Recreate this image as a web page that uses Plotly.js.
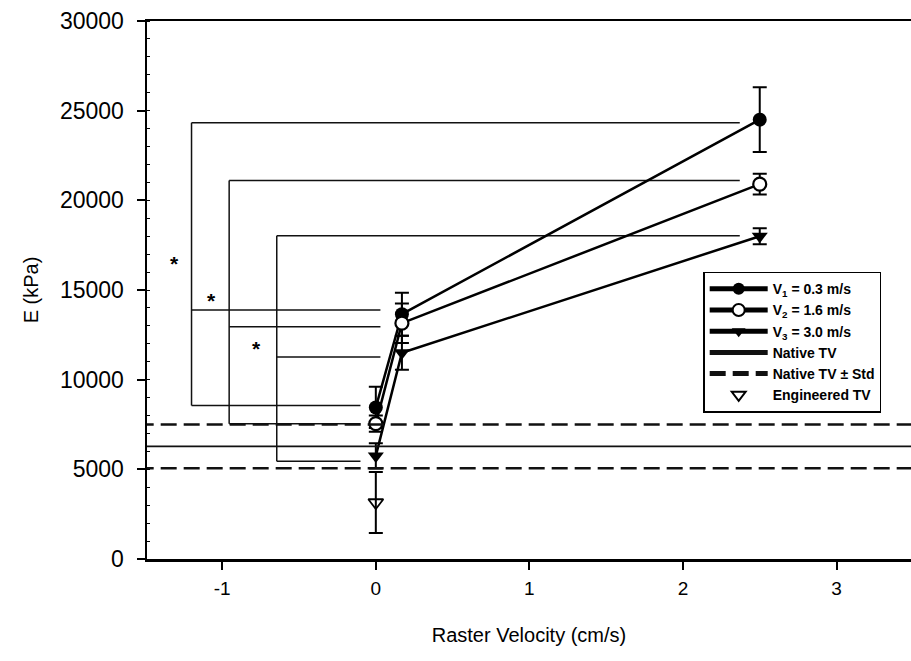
<!DOCTYPE html>
<html>
<head>
<meta charset="utf-8">
<script src="https://cdn.plot.ly/plotly-3.0.1.min.js"></script>
<style>html,body{margin:0;padding:0;background:#fff;}#chart{width:911px;height:661px;}</style>
</head>
<body>
<div id="chart"></div>
<script>
// ---- data ----
const xV = [0, 0.17, 2.5];
const v1 = [8450, 13650, 24500];
const v1Err = [1150, 1200, 1800];
const v2 = [7550, 13150, 20900];
const v2Err = [450, 1100, 580];
const v3 = [5750, 11500, 18000];
const v3Err = [700, 950, 450];
const engX = [0];
const engY = [3150];
const engErr = [1700];
const nativeTV = 6280;
const nativeStd = 1220;
const seriesNames = ["V<sub>1</sub> = 0.3 m/s", "V<sub>2</sub> = 1.6 m/s", "V<sub>3</sub> = 3.0 m/s",
                     "Native TV", "Native TV \u00b1 Std", "Engineered TV"];
// significance brackets
const bracketX = [-1.2, -0.955, -0.645];
const bracketLow = [8560, 7540, 5450];
const bracketMid = [13880, 12950, 11270];
const bracketHigh = [24330, 21100, 18020];
const bracketEnds = [-0.1, 0.03, 2.37];
const starX = [-1.31, -1.07, -0.777];
const starY = [16490, 14400, 11730];

const FONT = "Arial, 'Liberation Sans', Helvetica, sans-serif";
const traces = [];

// bracket lines
for (let i = 0; i < bracketX.length; i++) {
  const bx = bracketX[i];
  const levels = [bracketLow[i], bracketMid[i], bracketHigh[i]];
  const xs = [bx, bx], ys = [bracketLow[i], bracketHigh[i]];
  levels.forEach((lv, k) => { xs.push(null, bx, bracketEnds[k]); ys.push(null, lv, lv); });
  traces.push({x: xs, y: ys, mode: 'lines', line: {color: '#111', width: 1.5},
               showlegend: false, hoverinfo: 'skip'});
}

const errStyle = arr => ({type: 'data', array: arr, visible: true, color: '#000', thickness: 2, width: 7});

traces.push({name: seriesNames[0], x: xV, y: v1, mode: 'lines+markers',
  line: {color: '#000', width: 2.5}, marker: {symbol: 'circle', size: 14, color: '#000'},
  error_y: errStyle(v1Err)});
traces.push({name: seriesNames[1], x: xV, y: v2, mode: 'lines+markers',
  line: {color: '#000', width: 2.5}, marker: {symbol: 'circle', size: 13, color: '#fff', line: {color: '#000', width: 2.2}},
  error_y: errStyle(v2Err)});
traces.push({name: seriesNames[2], x: xV, y: v3, mode: 'lines+markers',
  line: {color: '#000', width: 2.5}, marker: {symbol: 'triangle-down', size: 14, color: '#000'},
  error_y: errStyle(v3Err)});
traces.push({name: seriesNames[3], x: [-2, 4], y: [nativeTV, nativeTV], mode: 'lines',
  line: {color: '#111', width: 1.6}, hoverinfo: 'skip'});
traces.push({name: seriesNames[4], x: [-2, 4, null, -2, 4],
  y: [nativeTV + nativeStd, nativeTV + nativeStd, null, nativeTV - nativeStd, nativeTV - nativeStd],
  mode: 'lines', line: {color: '#111', width: 2.6, dash: '16px,7px'}, hoverinfo: 'skip'});
traces.push({name: seriesNames[5], x: engX, y: engY, mode: 'markers',
  marker: {symbol: 'triangle-down-open', size: 13, color: '#000', line: {width: 1.8}},
  error_y: errStyle(engErr)});

const layout = {
  width: 911, height: 661,
  margin: {l: 147, r: 0, t: 21, b: 102},
  paper_bgcolor: '#fff', plot_bgcolor: '#fff',
  showlegend: true,
  font: {family: FONT, color: '#000'},
  xaxis: {
    range: [-1.49, 3.485], tickvals: [-1, 0, 1, 2, 3], ticktext: ['-1', '0', '1', '2', '3'],
    showgrid: false, zeroline: false, showline: true, linecolor: '#000', linewidth: 2.5, mirror: true,
    ticks: 'outside', ticklen: 8, tickwidth: 2, tickcolor: '#000',
    tickfont: {family: FONT, size: 19}, ticklabelstandoff: 3,
    title: {text: 'Raster Velocity (cm/s)', font: {family: FONT, size: 20}, standoff: 30}
  },
  yaxis: {
    range: [0, 30000], tickvals: [0, 5000, 10000, 15000, 20000, 25000, 30000],
    ticktext: ['0', '5000', '10000', '15000', '20000', '25000', '30000'],
    showgrid: false, zeroline: false, showline: true, linecolor: '#000', linewidth: 2.5,
    ticks: 'outside', ticklen: 8, tickwidth: 2, tickcolor: '#000',
    minor: {ticks: 'inside', ticklen: 3, tickwidth: 1, dtick: 1000, tickcolor: '#000', showgrid: false},
    tickfont: {family: FONT, size: 23}, ticklabelstandoff: 8,
    title: {text: 'E (kPa)', font: {family: FONT, size: 20}, standoff: 16}
  },
  legend: {
    x: 0.728, y: 0.534, xanchor: 'left', yanchor: 'top',
    bgcolor: '#fff', bordercolor: '#000', borderwidth: 1.5,
    font: {family: FONT, size: 14, weight: 'bold'},
    itemsizing: 'constant', itemwidth: 58, tracegroupgap: 0
  },
  annotations: starX.map((sx, i) => ({x: sx, y: starY[i], text: '*', showarrow: false,
    font: {family: FONT, size: 21, color: '#000', weight: 'bold'}, xanchor: 'center', yanchor: 'middle'}))
};

Plotly.newPlot('chart', traces, layout, {displayModeBar: false, staticPlot: true});
</script>
</body>
</html>
